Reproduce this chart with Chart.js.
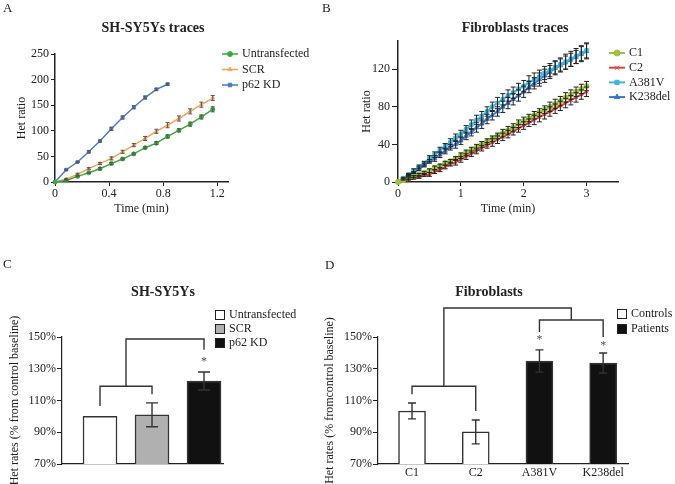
<!DOCTYPE html>
<html>
<head>
<meta charset="utf-8">
<title>Het traces and rates</title>
<script src="https://cdn.jsdelivr.net/npm/chart.js"></script>
<style>
  body { margin: 0; background: #fff; font-family: 'Liberation Serif', 'Times New Roman', serif; }
  #page { position: relative; width: 675px; height: 484px; overflow: hidden; }
  canvas { position: absolute; }
  .lbl { position: absolute; font-size: 13px; color: #222; }
  .ttl { position: absolute; font-size: 14px; font-weight: bold; color: #222; transform: translate(-50%, -50%); white-space: nowrap; }
</style>
</head>
<body>
<div id="page">
  <canvas id="chartA" width="335" height="240" style="left:0;top:0"></canvas>
  <canvas id="chartB" width="340" height="240" style="left:335px;top:0"></canvas>
  <canvas id="chartC" width="330" height="244" style="left:0;top:240px"></canvas>
  <canvas id="chartD" width="355" height="244" style="left:320px;top:240px"></canvas>

  <div class="lbl" style="left:3px;top:0">A</div>
  <div class="lbl" style="left:322px;top:0">B</div>
  <div class="lbl" style="left:3px;top:256px">C</div>
  <div class="lbl" style="left:325px;top:257px">D</div>

  <div class="ttl" style="left:153px;top:28px">SH-SY5Ys traces</div>
  <div class="ttl" style="left:515px;top:28px">Fibroblasts traces</div>
  <div class="ttl" style="left:163px;top:292px">SH-SY5Ys</div>
  <div class="ttl" style="left:489px;top:292px">Fibroblasts</div>
</div>

<script>
// ---- A: SH-SY5Ys traces ----
const timeA = [0, 0.083, 0.167, 0.25, 0.333, 0.417, 0.5, 0.583, 0.667, 0.75, 0.833, 0.917, 1, 1.083, 1.167];
const untransfected = [0, 3, 11, 18, 26, 36, 45, 55, 67, 76, 89, 101, 113, 127, 142];
const untransfectedErr = [0, 1, 1, 1, 2, 2, 2, 2, 2, 3, 3, 3, 4, 4, 5];
const scr = [0, 6, 15, 26, 36, 46, 59, 72, 85, 99, 111, 124, 138, 151, 164];
const scrErr = [0, 1, 2, 2, 2, 3, 3, 3, 4, 4, 5, 5, 5, 5, 5];
const p62kd = [0, 24, 39, 59, 80, 104, 126, 146, 165, 181, 191];
const p62kdErr = [0, 1, 1, 2, 2, 3, 3, 3, 3, 2, 2];

// ---- B: Fibroblasts traces ----
const timeB = [0, 0.083, 0.167, 0.25, 0.333, 0.417, 0.5, 0.583, 0.667, 0.75, 0.833, 0.917, 1,
  1.083, 1.167, 1.25, 1.333, 1.417, 1.5, 1.583, 1.667, 1.75, 1.833, 1.917, 2,
  2.083, 2.167, 2.25, 2.333, 2.417, 2.5, 2.583, 2.667, 2.75, 2.833, 2.917, 3];
const c1 = [0, 2, 4, 6, 8, 10, 12, 15, 17, 20, 22, 25, 28, 31, 34, 37, 40, 43, 46, 49, 52, 55, 58, 62, 65, 68, 71, 74, 77, 80, 83, 86, 90, 93, 96, 99, 102];
const c1Err = [0, 0, 1, 1, 1, 1, 2, 2, 2, 2, 2, 2, 3, 3, 3, 3, 3, 3, 3, 3, 4, 4, 4, 4, 4, 4, 4, 4, 4, 5, 5, 5, 5, 5, 5, 5, 5];
const c2 = [0, 1, 2, 4, 5, 7, 8, 11, 13, 16, 19, 21, 24, 27, 30, 33, 36, 39, 42, 45, 48, 51, 54, 57, 60, 63, 66, 69, 72, 75, 78, 81, 84, 87, 90, 93, 96];
const c2Err = [0, 0, 1, 1, 1, 1, 2, 2, 2, 2, 2, 3, 3, 3, 3, 3, 3, 3, 4, 4, 4, 4, 4, 4, 4, 4, 5, 5, 5, 5, 5, 5, 5, 5, 5, 5, 5];
const a381v = [0, 4, 8, 12, 16, 20, 25, 29, 34, 38, 42, 47, 51, 56, 61, 66, 70, 75, 80, 84, 88, 92, 95, 99, 102, 106, 109, 112, 116, 119, 122, 125, 128, 131, 134, 137, 140];
const a381vErr = [0, 1, 1, 2, 2, 2, 3, 3, 3, 3, 4, 4, 4, 4, 5, 5, 5, 5, 5, 6, 6, 6, 6, 6, 6, 7, 7, 7, 7, 7, 7, 7, 8, 8, 8, 8, 8];
const k238del = [0, 3, 7, 10, 14, 18, 22, 25, 29, 33, 37, 40, 44, 49, 53, 58, 62, 67, 71, 75, 80, 84, 88, 92, 96, 101, 105, 109, 113, 117, 121, 124, 127, 130, 133, 136, 139];
const k238delErr = [0, 1, 1, 1, 2, 2, 2, 3, 3, 3, 3, 4, 4, 4, 4, 5, 5, 5, 5, 5, 6, 6, 6, 6, 6, 6, 6, 7, 7, 7, 7, 7, 7, 7, 7, 8, 8];

// ---- C: SH-SY5Ys rates ----
const catsC = ['Untransfected', 'SCR', 'p62 KD'];
const ratesC = [100, 101, 122.3];
const ratesCErr = [0, 7.5, 5.7];

// ---- D: Fibroblasts rates ----
const catsD = ['C1', 'C2', 'A381V', 'K238del'];
const ratesD = [103.4, 90.2, 134.9, 133.6];
const ratesDErr = [5, 7.5, 7, 6.3];
const groupsD = ['Controls', 'Patients'];

Chart.defaults.font.family = "'Liberation Serif', 'Times New Roman', serif";
Chart.defaults.font.size = 12;
Chart.defaults.color = '#222';
Chart.defaults.animation = false;

const FONT = "12px 'Liberation Serif', 'Times New Roman', serif";

// error bars drawn from each dataset's "errors" array through the y scale
const errorBars = {
  id: 'errorBars',
  afterDatasetsDraw(chart) {
    const ctx = chart.ctx;
    const ys = chart.scales.y;
    chart.data.datasets.forEach((ds, i) => {
      if (!ds.errors) return;
      const meta = chart.getDatasetMeta(i);
      ctx.save();
      ctx.strokeStyle = ds.errorColor || '#333';
      ctx.lineWidth = ds.errorWidth || 1;
      meta.data.forEach((el, j) => {
        const e = ds.errors[j];
        if (!e) return;
        const v = meta.controller.getParsed(j).y;
        const top = ys.getPixelForValue(v + e);
        const bot = ys.getPixelForValue(v - e);
        const h = (ds.capWidth || 6) / 2;
        ctx.beginPath();
        ctx.moveTo(el.x, top); ctx.lineTo(el.x, bot);
        ctx.moveTo(el.x - h, top); ctx.lineTo(el.x + h, top);
        ctx.moveTo(el.x - h, bot); ctx.lineTo(el.x + h, bot);
        ctx.stroke();
      });
      ctx.restore();
    });
  }
};

// significance brackets, in data units
const brackets = {
  id: 'brackets',
  afterDraw(chart, args, opts) {
    const {ctx, scales: {x, y}} = chart;
    ctx.save();
    ctx.strokeStyle = '#333';
    ctx.lineWidth = 1.4;
    (opts.lines || []).forEach(line => {
      ctx.beginPath();
      line.forEach(([a, b], k) => {
        const px = x.getPixelForValue(a), py = y.getPixelForValue(b);
        if (k) ctx.lineTo(px, py); else ctx.moveTo(px, py);
      });
      ctx.stroke();
    });
    ctx.fillStyle = '#555';
    ctx.font = FONT;
    ctx.textAlign = 'center';
    ctx.textBaseline = 'middle';
    (opts.stars || []).forEach(([a, b]) => ctx.fillText('*', x.getPixelForValue(a), y.getPixelForValue(b)));
    ctx.restore();
  }
};

// legend with line + marker
const lineLegend = {
  id: 'lineLegend',
  afterDraw(chart, args, opts) {
    const ctx = chart.ctx;
    ctx.save();
    ctx.font = FONT;
    ctx.textBaseline = 'middle';
    ctx.textAlign = 'left';
    chart.data.datasets.forEach((ds, i) => {
      const yy = opts.y + i * opts.gap;
      ctx.strokeStyle = ds.borderColor;
      ctx.lineWidth = ds.borderWidth;
      ctx.beginPath(); ctx.moveTo(opts.x, yy); ctx.lineTo(opts.x + opts.len, yy); ctx.stroke();
      ctx.fillStyle = ds.backgroundColor;
      ctx.lineWidth = 1;
      if (Chart.helpers && Chart.helpers.drawPoint) {
        Chart.helpers.drawPoint(ctx, {pointStyle: ds.pointStyle, radius: ds.pointRadius + 0.5, borderWidth: 1, rotation: 0}, opts.x + opts.len / 2, yy);
      } else {
        ctx.fillRect(opts.x + opts.len / 2 - 2.5, yy - 2.5, 5, 5);
      }
      ctx.fillStyle = '#222';
      ctx.fillText(ds.label, opts.x + opts.len + 4, yy);
    });
    ctx.restore();
  }
};

// legend with filled boxes
const boxLegend = {
  id: 'boxLegend',
  afterDraw(chart, args, opts) {
    const ctx = chart.ctx;
    ctx.save();
    ctx.font = FONT;
    ctx.textBaseline = 'middle';
    ctx.textAlign = 'left';
    opts.labels.forEach((lab, i) => {
      const yy = opts.y + i * opts.gap;
      ctx.fillStyle = opts.colors[i];
      ctx.fillRect(opts.x, yy - 5, 10, 10);
      ctx.strokeStyle = '#222';
      ctx.lineWidth = 1;
      ctx.strokeRect(opts.x + 0.5, yy - 4.5, 9, 9);
      ctx.fillStyle = '#222';
      ctx.fillText(lab, opts.x + 14, yy);
    });
    ctx.restore();
  }
};

function lineSet(label, times, values, errors, color, style) {
  return {
    label, errors,
    data: values.map((v, i) => ({x: times[i], y: v})),
    borderColor: color, backgroundColor: color,
    borderWidth: 1.5, pointStyle: style, pointRadius: 2,
    pointBorderWidth: 1, tension: 0, clip: false,
    errorColor: '#555', capWidth: 4
  };
}

function axisLines(extra) {
  return Object.assign({
    border: {color: '#222', width: 1.5},
    grid: {drawOnChartArea: false, drawTicks: true, tickLength: 4, color: '#222'}
  }, extra);
}

// ---------- Chart A ----------
new Chart(document.getElementById('chartA'), {
  type: 'line',
  data: {
    datasets: [
      lineSet('Untransfected', timeA, untransfected, untransfectedErr, '#3aaa3a', 'circle'),
      lineSet('SCR', timeA, scr, scrErr, '#f5a35c', 'triangle'),
      lineSet('p62 KD', timeA, p62kd, p62kdErr, '#4a7cc0', 'rect')
    ]
  },
  options: {
    responsive: false,
    layout: {padding: {left: 0, right: 107, top: 54, bottom: 18}},
    plugins: {
      legend: {display: false}, tooltip: {enabled: false},
      lineLegend: {x: 222, y: 54, gap: 15.5, len: 16}
    },
    scales: {
      x: axisLines({
        type: 'linear', min: 0, max: 1.28,
        ticks: {stepSize: 0.4, includeBounds: false, padding: 1, callback: v => +v.toFixed(1)},
        title: {display: true, text: 'Time (min)', padding: {top: 0, bottom: 6}},
        afterFit: s => { s.height = 40; }
      }),
      y: axisLines({
        min: 0, max: 250,
        ticks: {stepSize: 50, padding: 2},
        title: {display: true, text: 'Het ratio', padding: {top: 15, bottom: 0}},
        afterFit: s => { s.width = 55; }
      })
    }
  },
  plugins: [errorBars, lineLegend]
});

// ---------- Chart B ----------
new Chart(document.getElementById('chartB'), {
  type: 'line',
  data: {
    datasets: [
      lineSet('C1', timeB, c1, c1Err, '#9dc33f', 'circle'),
      lineSet('C2', timeB, c2, c2Err, '#e2403c', 'crossRot'),
      lineSet('A381V', timeB, a381v, a381vErr, '#40b5dc', 'rect'),
      lineSet('K238del', timeB, k238del, k238delErr, '#3a74c6', 'triangle')
    ].map(d => Object.assign(d, {borderWidth: 2, pointRadius: 2.5, errorColor: '#222', capWidth: 5}))
  },
  options: {
    responsive: false,
    layout: {padding: {left: 0, right: 57, top: 41, bottom: 18}},
    plugins: {
      legend: {display: false}, tooltip: {enabled: false},
      lineLegend: {x: 274, y: 53, gap: 14.7, len: 16}
    },
    scales: {
      x: axisLines({
        type: 'linear', min: 0, max: 3.5,
        ticks: {stepSize: 1, includeBounds: false, padding: 1},
        title: {display: true, text: 'Time (min)', padding: {top: 0, bottom: 6}},
        afterFit: s => { s.height = 40; }
      }),
      y: axisLines({
        min: 0, max: 150,
        ticks: {stepSize: 40, includeBounds: false, padding: 2},
        grid: {drawOnChartArea: false, drawTicks: true, tickLength: 6, color: '#222'},
        title: {display: true, text: 'Het ratio', padding: {top: 25, bottom: 0}},
        afterFit: s => { s.width = 63; }
      })
    }
  },
  plugins: [errorBars, lineLegend]
});

// ---------- Chart C ----------
const pctAxis = (titleText, pad, width) => ({
  min: 70, max: 150,
  border: {color: '#222', width: 1.2},
  grid: {drawOnChartArea: false, drawTicks: true, tickLength: 5, color: '#222'},
  ticks: {stepSize: 20, padding: 1, callback: v => v + '%'},
  title: {display: true, text: titleText, padding: {top: pad, bottom: 0}},
  afterFit: s => { s.width = width; }
});

new Chart(document.getElementById('chartC'), {
  type: 'bar',
  data: {
    datasets: [{
      data: ratesC.map((v, i) => ({x: i + 1, y: v})),
      errors: ratesCErr,
      backgroundColor: ['#ffffff', '#b0b0b0', '#111111'],
      borderColor: '#333', borderWidth: 1.5,
      barThickness: 34, errorColor: '#333', errorWidth: 1.4, capWidth: 12
    }]
  },
  options: {
    responsive: false,
    layout: {padding: {left: 0, right: 107, top: 97, bottom: 0}},
    plugins: {
      legend: {display: false}, tooltip: {enabled: false},
      boxLegend: {x: 215, y: 75, gap: 14, labels: catsC, colors: ['#ffffff', '#b0b0b0', '#111111']},
      brackets: {
        lines: [
          [[1, 106.5], [1, 119], [2, 119], [2, 114]],
          [[1.5, 119], [1.5, 148.7], [3, 148.7], [3, 142]]
        ],
        stars: [[3, 134.3]]
      }
    },
    scales: {
      x: {
        type: 'linear', min: 0.269, max: 3.365, offset: false,
        border: {color: '#222', width: 1.2},
        grid: {display: false, drawTicks: false, offset: false},
        ticks: {display: false},
        afterFit: s => { s.height = 20; }
      },
      y: pctAxis('Het rates (% from control baseline)', 8, 62)
    }
  },
  plugins: [errorBars, brackets, boxLegend]
});

// ---------- Chart D ----------
new Chart(document.getElementById('chartD'), {
  type: 'bar',
  data: {
    datasets: [{
      data: ratesD.map((v, i) => ({x: i + 1, y: v})),
      errors: ratesDErr,
      backgroundColor: ['#ffffff', '#ffffff', '#111111', '#111111'],
      borderColor: '#333', borderWidth: 1.5,
      barThickness: 27, errorColor: '#333', errorWidth: 1.4, capWidth: 8
    }]
  },
  options: {
    responsive: false,
    layout: {padding: {left: 0, right: 47, top: 97, bottom: 0}},
    plugins: {
      legend: {display: false}, tooltip: {enabled: false},
      boxLegend: {x: 297, y: 74, gap: 15, labels: groupsD, colors: ['#ffffff', '#111111']},
      brackets: {
        lines: [
          [[1, 114], [1, 119], [2, 119], [2, 103.4]],
          [[1.5, 119], [1.5, 168.3], [3.5, 168.3], [3.5, 160.7]],
          [[3, 153.2], [3, 160.7], [4, 160.7], [4, 150]]
        ],
        stars: [[3, 148], [4, 144.3]]
      }
    },
    scales: {
      x: {
        type: 'linear', min: 0.466, max: 4.39, offset: false,
        border: {color: '#222', width: 1.2},
        grid: {display: false, drawTicks: false, offset: false},
        afterBuildTicks: s => { s.ticks = catsD.map((c, i) => ({value: i + 1})); },
        ticks: {padding: 2, callback: v => catsD[v - 1]},
        afterFit: s => { s.height = 20; }
      },
      y: pctAxis('Het rates (% fromcontrol baseline)', 3, 58)
    }
  },
  plugins: [errorBars, brackets, boxLegend]
});
</script>
</body>
</html>
